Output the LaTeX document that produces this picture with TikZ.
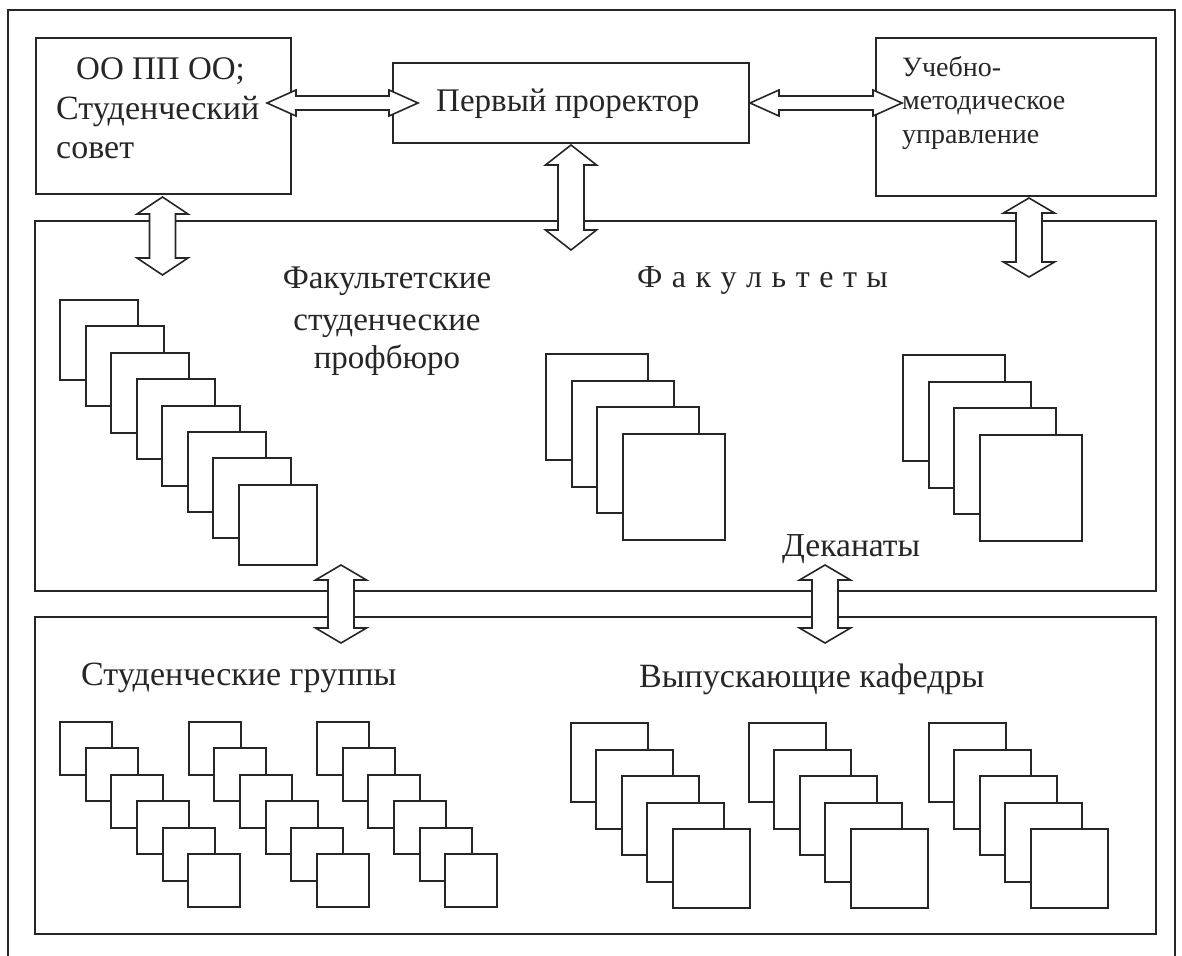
\documentclass[tikz,border=0pt]{standalone}
\usepackage{fontspec}
\setmainfont{Liberation Serif}
\usetikzlibrary{calc}
\newcommand\setfs[1]{\fontsize{#1}{#1}\selectfont}
\tikzset{
  ln/.style={draw=black!85, line width=2pt},
  box/.style={ln, fill=white, anchor=north west, inner sep=0pt},
  sq/.style={ln, fill=white, anchor=north west, inner sep=0pt},
  lbl/.style={anchor=base west, inner sep=0pt, text=black!85},
  clbl/.style={anchor=base, inner sep=0pt, text=black!85},
  harrow/.style={draw=black!85, line width=1.6pt, fill=white, line join=miter,
    to path={let \p1=(\tikztostart), \p2=(\tikztotarget) in
      (\x1,\y1) -- (\x1+29pt,\y1+13pt) -- (\x1+29pt,\y1+7pt) -- (\x2-29pt,\y1+7pt)
      -- (\x2-29pt,\y1+13pt) -- (\x2,\y1) -- (\x2-29pt,\y1-13pt) -- (\x2-29pt,\y1-7pt)
      -- (\x1+29pt,\y1-7pt) -- (\x1+29pt,\y1-13pt) -- cycle}},
  varrow/.style={draw=black!85, line width=1.6pt, fill=white, line join=miter,
    to path={let \p1=(\tikztostart), \p2=(\tikztotarget) in
      (\x1,\y1) -- (\x1+25.5pt,\y1-#1) -- (\x1+13pt,\y1-#1) -- (\x1+13pt,\y2+#1)
      -- (\x1+25.5pt,\y2+#1) -- (\x1,\y2) -- (\x1-25.5pt,\y2+#1) -- (\x1-13pt,\y2+#1)
      -- (\x1-13pt,\y1-#1) -- (\x1-25.5pt,\y1-#1) -- cycle}},
  varrow/.default=17pt
}
\begin{document}
\begin{tikzpicture}[x=1pt, y=-1pt]
\useasboundingbox (0,0) rectangle (1182,955);
\fill[white] (0,0) rectangle (1182,955);
% outer frame
\draw[ln] (8,958) -- (8,10) -- (1175,10) -- (1175,958);
% bands
\node[box, minimum width=1121, minimum height=370] (faculties) at (34,220) {};
\node[box, minimum width=1121, minimum height=317] (lower) at (34,616) {};
% top boxes
\node[box, minimum width=255, minimum height=156] (soviet) at (35,37) {};
\node[box, minimum width=356, minimum height=80] (prorector) at (392,62) {};
\node[box, minimum width=280, minimum height=158] (umu) at (875,37) {};
% profbureau stack
\foreach \i in {0,...,7}
  \node[sq, minimum width=78, minimum height=80] (pb\i) at ({round(59+25.5*\i)},{round(299+26.4*\i)}) {};
% faculty stacks
\foreach \i in {0,...,3}
  \node[sq, minimum width=102, minimum height=106] (fa\i) at ({round(545+25.5*\i)},{round(353+26.5*\i)}) {};
\foreach \i in {0,...,3}
  \node[sq, minimum width=102, minimum height=106] (fb\i) at ({round(902+25.5*\i)},{round(354+26.5*\i)}) {};
% student group stacks
\foreach \s/\sx in {1/59, 2/187.5, 3/316}
  \foreach \i in {0,...,5}
    \node[sq, minimum width=52, minimum height=53] (sg\s-\i) at ({round(\sx+25.7*\i)},{round(721+26.4*\i)}) {};
% department stacks
\foreach \s/\sx in {1/570, 2/748, 3/928}
  \foreach \i in {0,...,4}
    \node[sq, minimum width=77, minimum height=79] (kf\s-\i) at ({round(\sx+25.4*\i)},{round(722+26.5*\i)}) {};
% arrows
\draw[harrow] ($(soviet.east |- prorector.west)+(-25,0)$) to ($(prorector.west)+(26,0)$);
\draw[harrow] (prorector.east) to ($(umu.west |- prorector.east)+(27,0)$);
\draw[varrow] ($(soviet.south)+(-1,2)$) to ($(soviet.south)+(-1,80)$);
\draw[varrow=20pt] ($(prorector.south)+(0,1)$) to ($(prorector.south)+(0,106)$);
\draw[varrow=15pt] ($(umu.south)+(13,1)$) to ($(umu.south)+(13,80)$);
\draw[varrow=15pt] ($(faculties.south west)+(307,-27)$) to ($(lower.north west)+(307,27)$);
\draw[varrow=15pt] ($(faculties.south west)+(791,-27)$) to ($(lower.north west)+(791,27)$);
% texts
\node[lbl] (t-oo) at (76,80) {\setfs{33}ОО ПП ОО;};
\node[lbl] (t-stud) at (56,120) {\setfs{34}Студенческий};
\node[lbl] (t-sov) at (56,158) {\setfs{34}совет};
\node[lbl] (t-pr) at (436,111) {\setfs{33}Первый проректор};
\node[lbl] (t-u1) at (902,77) {\setfs{28}Учебно-};
\node[lbl] (t-u2) at (902,110) {\setfs{28}методическое};
\node[lbl] (t-u3) at (902,143) {\setfs{28}управление};
\node[clbl] (t-f1) at (387,288) {\setfs{33}Факультетские};
\node[clbl] (t-f2) at (387,330) {\setfs{33}студенческие};
\node[clbl] (t-f3) at (387,368) {\setfs{33}профбюро};
\node[lbl] (t-fac) at (637,287) {\setfs{32}\spaceskip=9.5pt Ф а к у л ь т е т ы};
\node[lbl] (t-dek) at (782,556) {\setfs{33.5}Деканаты};
\node[lbl] (t-sg) at (81,685) {\setfs{34}Студенческие группы};
\node[lbl] (t-kf) at (639,687) {\setfs{34}Выпускающие кафедры};
\end{tikzpicture}
\end{document}
